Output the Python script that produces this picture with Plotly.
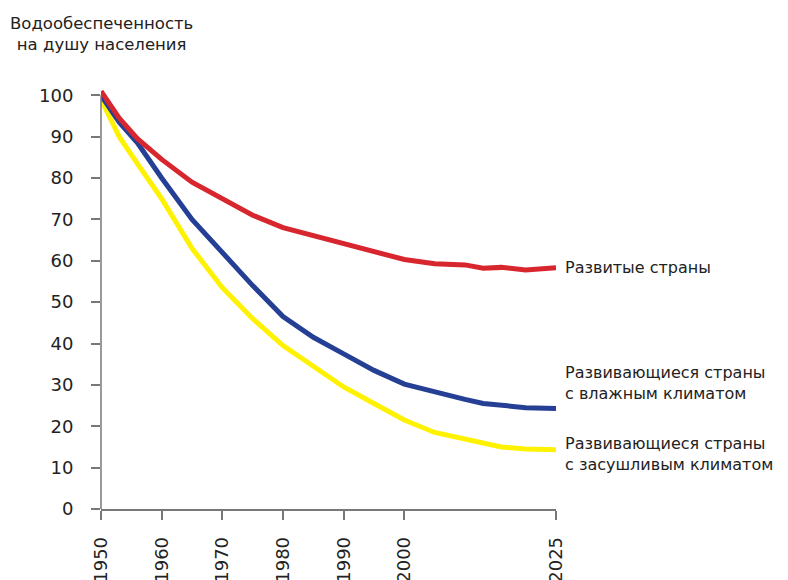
import plotly.graph_objects as go

years = [1950, 1953, 1956, 1960, 1965, 1970, 1975, 1980, 1985, 1990, 1995, 2000, 2005, 2010, 2013, 2016, 2020, 2025]
developed = [101, 94.5, 89.5, 84.5, 79, 75, 71, 68, 66, 64, 62, 60.3, 59.3, 59, 58.2, 58.4, 57.8, 58.3]
humid = [100, 93.5, 88.5, 80, 70, 62, 54, 46.5, 41.5, 37.5, 33.5, 30.2, 28.2, 26.5, 25.5, 25, 24.5, 24.3]
arid = [99, 90, 83.5, 75, 63, 53.5, 46, 39.5, 34.5, 29.5, 25.5, 21.5, 18.5, 16.8, 15.8, 15, 14.5, 14.3]

series_names = ["Развитые страны",
                "Развивающиеся страны<br>с влажным климатом",
                "Развивающиеся страны<br>с засушливым климатом"]
series_colors = ["#d7262e", "#253f94", "#fff200"]
label_y = [58.3, 30.4, 13.2]

x_ticks = [1950, 1960, 1970, 1980, 1990, 2000, 2025]
y_ticks = [0, 10, 20, 30, 40, 50, 60, 70, 80, 90, 100]

FONT = "DejaVu Sans"
TXT = "#222"

fig = go.Figure()
for vals, col in [(arid, series_colors[2]), (humid, series_colors[1]), (developed, series_colors[0])]:
    fig.add_trace(go.Scatter(x=years, y=vals, mode="lines",
                             line=dict(color=col, width=5), showlegend=False,
                             hoverinfo="skip"))

for name, ly in zip(series_names, label_y):
    fig.add_annotation(x=1, xref="paper", xshift=7, y=ly, yref="y",
                       text=name, showarrow=False, xanchor="left", align="left",
                       font=dict(family=FONT, size=16, color=TXT))

fig.add_annotation(x=0, xref="paper", y=102, yref="y", yshift=31,
                   text="Водообеспеченность<br>на душу населения",
                   showarrow=False, xanchor="center", yanchor="bottom",
                   align="center", font=dict(family=FONT, size=16.5, color=TXT))

# the page body has an 8px margin, so the figure is drawn 8px smaller
fig.update_layout(
    width=780, height=572,
    margin=dict(l=93, r=232, t=79, b=71, autoexpand=False),
    paper_bgcolor="white", plot_bgcolor="white",
    font=dict(family=FONT, size=17, color=TXT),
    xaxis=dict(range=[1950, 2025], tickmode="array", tickvals=x_ticks,
               ticktext=[str(t) for t in x_ticks], tickangle=-90,
               automargin=False,
               showgrid=False, zeroline=False, showline=True,
               linecolor="#777", linewidth=1.5,
               ticks="outside", ticklen=9, tickcolor="#777", tickwidth=1.5,
               ticklabelstandoff=10,
               tickfont=dict(family=FONT, size=18, color=TXT)),
    yaxis=dict(range=[0, 102], tickmode="array", tickvals=y_ticks,
               automargin=False,
               showgrid=False, zeroline=False, showline=False,
               ticks="outside", ticklen=9, tickcolor="#777", tickwidth=1.5,
               ticklabelstandoff=14,
               tickfont=dict(family=FONT, size=18, color=TXT)),
)

fig.add_shape(type="line", xref="paper", yref="y", x0=0, x1=0, y0=0, y1=100,
              line=dict(color="#777", width=1.5))

fig.write_html("out.html")
